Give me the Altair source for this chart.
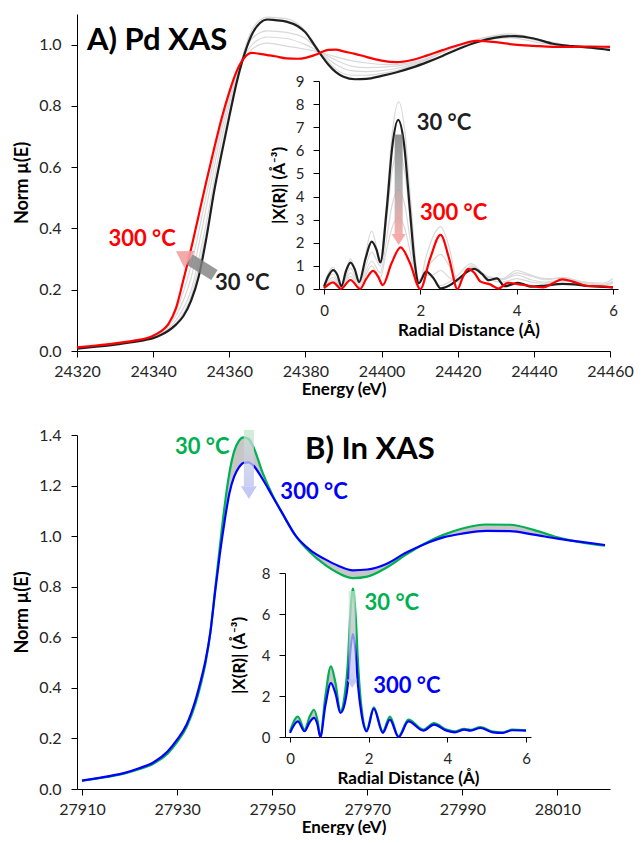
import altair as alt
import pandas as pd

FONT = "Lato"
BLACK = "#1f1f1f"
RED = "#ff0000"
GREEN = "#00b050"
BLUE = "#0000ff"
LIGHT = "#d9d9d9"

# ---------------- Panel A: Pd K-edge XANES ----------------
E_pd = [24320, 24325, 24330, 24335, 24338, 24340, 24342, 24344, 24346, 24348,
        24350, 24352, 24354, 24356, 24358, 24360, 24362, 24364, 24366, 24368,
        24370, 24372, 24375, 24378, 24380, 24382, 24384, 24386, 24388, 24390,
        24393, 24396, 24400, 24404, 24408, 24412, 24416, 24420, 24425, 24430,
        24435, 24440, 24445, 24450, 24455, 24460]
pd_30C = [0.008, 0.014, 0.021, 0.030, 0.036, 0.042, 0.052, 0.066, 0.086, 0.115,
          0.165, 0.245, 0.370, 0.520, 0.645, 0.765, 0.880, 0.970, 1.035, 1.070,
          1.082, 1.080, 1.075, 1.060, 1.040, 1.005, 0.968, 0.935, 0.910, 0.895,
          0.887, 0.888, 0.898, 0.910, 0.925, 0.943, 0.963, 0.985, 1.008, 1.023,
          1.028, 1.020, 1.003, 0.995, 0.990, 0.982]
pd_300C = [0.012, 0.018, 0.025, 0.034, 0.041, 0.050, 0.064, 0.088, 0.140, 0.235,
           0.335, 0.445, 0.555, 0.660, 0.760, 0.845, 0.915, 0.958, 0.973, 0.970,
           0.966, 0.962, 0.955, 0.954, 0.957, 0.964, 0.974, 0.983, 0.984, 0.978,
           0.970, 0.960, 0.948, 0.943, 0.950, 0.965, 0.982, 0.998, 1.012, 1.008,
           1.000, 0.996, 0.993, 0.993, 0.994, 0.993]
# intermediate temperatures (thin grey)
E_pd_mid = [24320, 24330, 24338, 24342, 24346, 24350, 24354, 24358, 24362, 24366,
            24370, 24375, 24380, 24384, 24388, 24392, 24396, 24402, 24410, 24418,
            24426, 24434, 24442, 24450, 24460]
pd_mid1 = [0.009, 0.022, 0.037, 0.053, 0.090, 0.180, 0.390, 0.660, 0.890, 1.050,
           1.090, 1.085, 1.045, 0.975, 0.920, 0.900, 0.900, 0.910, 0.940, 0.985,
           1.020, 1.035, 1.015, 0.995, 0.985]
pd_mid2 = [0.010, 0.023, 0.038, 0.056, 0.100, 0.200, 0.420, 0.690, 0.900, 1.020,
           1.045, 1.040, 1.020, 0.975, 0.935, 0.915, 0.912, 0.918, 0.942, 0.985,
           1.020, 1.032, 1.012, 0.995, 0.986]
pd_mid3 = [0.011, 0.024, 0.039, 0.060, 0.115, 0.240, 0.470, 0.720, 0.905, 1.000,
           1.025, 1.020, 1.000, 0.975, 0.950, 0.930, 0.925, 0.928, 0.945, 0.985,
           1.018, 1.028, 1.010, 0.994, 0.988]
pd_mid4 = [0.011, 0.024, 0.040, 0.063, 0.130, 0.280, 0.510, 0.740, 0.910, 0.985,
           1.005, 0.995, 0.985, 0.975, 0.960, 0.948, 0.940, 0.935, 0.948, 0.985,
           1.015, 1.022, 1.005, 0.993, 0.990]

# Pd EXAFS |X(R)|
R_pd_30C = [0, 0.1, 0.19, 0.28, 0.36, 0.46, 0.55, 0.64, 0.73, 0.86, 0.99, 1.09,
            1.17, 1.3, 1.42, 1.54, 1.66, 1.78, 1.88, 1.97, 2.12, 2.28, 2.42, 2.6,
            2.8, 3.0, 3.12, 3.28, 3.42, 3.59, 3.75, 3.9, 4.02, 4.15, 4.3, 4.6,
            4.95, 5.2, 5.45, 5.7, 6.0]
chi_pd_30C = [0.1, 0.6, 0.82, 0.6, 0.12, 0.8, 1.14, 0.85, 0.3, 1.3, 2.05, 1.7,
              1.15, 3.4, 6.2, 7.32, 6.3, 3.5, 1.2, 0.25, 0.75, 0.45, 0.03, 0.15,
              0.45, 0.78, 0.87, 0.65, 0.38, 0.46, 0.12, 0.2, 0.27, 0.2, 0.1, 0.15,
              0.22, 0.2, 0.13, 0.1, 0.07]
R_pd_300C = [0, 0.19, 0.35, 0.55, 0.75, 0.88, 1.02, 1.12, 1.22, 1.4, 1.59, 1.78,
             2.0, 2.2, 2.42, 2.6, 2.77, 2.88, 2.99, 3.12, 3.25, 3.45, 3.62, 3.82,
             4.05, 4.29, 4.55, 4.75, 4.95, 5.2, 5.49, 5.75, 6.0]
chi_pd_300C = [0.03, 0.29, 0.01, 0.39, 0.01, 0.45, 0.78, 0.55, 0.17, 1.1, 1.8, 1.15,
               0.0, 1.3, 2.34, 1.3, 0.0, 0.5, 0.87, 0.7, 0.32, 0.2, 0.02, 0.27,
               0.2, 0.13, 0.07, 0.25, 0.42, 0.3, 0.13, 0.12, 0.07]
R_pd_mid = [0, 0.19, 0.36, 0.55, 0.73, 0.99, 1.17, 1.3, 1.42, 1.55, 1.68, 1.8,
            1.97, 2.12, 2.25, 2.42, 2.6, 2.78, 3.05, 3.4, 3.7, 4.0, 4.3, 4.6,
            4.95, 5.4, 5.8, 6.0]
chi_pd_mid1 = [0.15, 0.95, 0.15, 1.3, 0.35, 2.5, 1.3, 3.8, 6.8, 8.1, 6.8, 3.8, 0.4,
               0.8, 0.45, 0.15, 0.3, 0.6, 1.1, 0.5, 0.4, 0.7, 0.55, 0.4, 0.5, 0.3,
               0.25, 0.45]
chi_pd_mid2 = [0.12, 0.65, 0.1, 0.9, 0.25, 1.6, 1.0, 3.0, 5.2, 6.0, 5.0, 2.8, 0.35,
               0.6, 0.6, 0.8, 0.5, 0.3, 1.0, 0.55, 0.45, 0.8, 0.6, 0.45, 0.45, 0.3,
               0.2, 0.35]
chi_pd_mid3 = [0.08, 0.5, 0.08, 0.7, 0.2, 1.2, 0.7, 2.2, 3.7, 4.3, 3.6, 2.0, 0.3,
               0.9, 1.2, 1.5, 1.0, 0.35, 0.95, 0.5, 0.4, 0.6, 0.4, 0.3, 0.4, 0.25,
               0.15, 0.3]
chi_pd_mid4 = [0.05, 0.4, 0.05, 0.55, 0.1, 1.0, 0.5, 1.7, 2.7, 3.1, 2.6, 1.5, 0.2,
               1.4, 2.2, 2.7, 1.8, 0.3, 0.9, 0.45, 0.3, 0.45, 0.3, 0.25, 0.35, 0.2,
               0.12, 0.25]

# ---------------- Panel B: In K-edge XANES ----------------
E_in = [27910, 27913, 27916, 27919, 27922, 27925, 27928, 27930, 27932, 27934,
        27935, 27936, 27937, 27938, 27939, 27940, 27941, 27942, 27943, 27944,
        27945, 27946, 27948, 27950, 27952, 27955, 27958, 27961, 27964, 27967,
        27970, 27974, 27978, 27982, 27986, 27990, 27995, 28000, 28005, 28010,
        28015, 28020]
in_30C = [0.033, 0.041, 0.050, 0.062, 0.078, 0.100, 0.140, 0.185, 0.245, 0.345,
          0.415, 0.500, 0.620, 0.790, 0.960, 1.120, 1.250, 1.335, 1.377, 1.391,
          1.385, 1.355, 1.250, 1.165, 1.095, 1.000, 0.935, 0.888, 0.853, 0.834,
          0.840, 0.875, 0.925, 0.970, 1.005, 1.030, 1.046, 1.045, 1.025, 0.995,
          0.975, 0.962]
in_300C = [0.033, 0.042, 0.052, 0.064, 0.082, 0.105, 0.148, 0.195, 0.255, 0.360,
           0.430, 0.510, 0.620, 0.780, 0.930, 1.060, 1.170, 1.235, 1.272, 1.290,
           1.292, 1.280, 1.225, 1.160, 1.095, 1.000, 0.945, 0.910, 0.882, 0.865,
           0.868, 0.890, 0.933, 0.968, 0.995, 1.010, 1.021, 1.020, 1.006, 0.990,
           0.977, 0.965]
R_in = [0, 0.2, 0.37, 0.5, 0.61, 0.7, 0.77, 0.9, 1.04, 1.16, 1.28, 1.4, 1.47, 1.53,
        1.6, 1.67, 1.73, 1.82, 1.95, 2.13, 2.36, 2.54, 2.76, 3.01, 3.39, 3.66, 3.98,
        4.19, 4.43, 4.59, 4.84, 5.16, 5.41, 5.65, 6.0]
chi_in_30C = [0.28, 1.0, 0.36, 1.0, 1.33, 0.8, 0.03, 2.0, 3.45, 2.6, 1.25, 2.2, 3.6,
              5.9, 7.24, 5.9, 3.6, 1.4, 0.36, 1.45, 0.28, 1.0, 0.03, 0.85, 0.36,
              0.68, 0.36, 0.27, 0.4, 0.35, 0.48, 0.26, 0.22, 0.36, 0.33]
chi_in_300C = [0.2, 0.76, 0.28, 0.72, 0.93, 0.6, 0.0, 1.55, 2.63, 2.1, 1.17, 1.7,
               2.55, 4.1, 5.02, 4.1, 2.5, 1.1, 0.28, 1.38, 0.2, 0.85, 0.0, 0.76,
               0.31, 0.6, 0.31, 0.23, 0.36, 0.31, 0.44, 0.23, 0.2, 0.33, 0.31]

# ---------------- ticks ----------------
pd_E_ticks = [24320, 24340, 24360, 24380, 24400, 24420, 24440, 24460]
pd_mu_ticks = [0.0, 0.2, 0.4, 0.6, 0.8, 1.0]
pd_chi_ticks = [0, 1, 2, 3, 4, 5, 6, 7, 8, 9]
in_E_ticks = [27910, 27930, 27950, 27970, 27990, 28010]
in_mu_ticks = [0.0, 0.2, 0.4, 0.6, 0.8, 1.0, 1.2, 1.4]
in_chi_ticks = [0, 2, 4, 6, 8]
R_ticks = [0, 2, 4, 6]

# ---------------- annotations ----------------
panel_titles = ["A) Pd XAS", "B) In XAS"]
t30, t300 = "30 °C", "300 °C"
pdA_lab_E = [24337.1, 24363.4]
pdA_lab_mu = [0.365, 0.222]
pdI_lab_R = [2.49, 2.69]
pdI_lab_chi = [7.2, 3.28]
inA_lab_E = [27935.3, 27958.8]
inA_lab_mu = [1.353, 1.175]
inI_lab_R = [2.59, 2.97]
inI_lab_chi = [6.54, 2.49]
# arrows: tail, head base, tip
pdA_arrow_E = [24356.1, 24349.5, 24346.0]
pdA_arrow_mu = [0.248, 0.299, 0.326]
pdI_arrow_R = 1.55
pdI_arrow_chi = [6.68, 2.38, 1.9]
inA_arrow_E = 27945.1
inA_arrow_mu = [1.42, 1.198, 1.147]
inI_arrow_R = 1.58
inI_arrow_chi = [7.12, 2.78, 2.39]

HEAD = "M-1,-1.6L1,-1.6L0,0Z"


def lines_df(xname, xs, yname, series):
    rows = []
    for name, vals in series.items():
        for x, y in zip(xs, vals):
            rows.append({xname: x, yname: y, "s": name})
    return pd.DataFrame(rows)


def main_axis_x(values, title):
    return alt.Axis(values=values, format="d", title=title, labelFlush=False,
                    labelOverlap=False, tickSize=6, labelPadding=6, titlePadding=2,
                    labelFontSize=16, titleFontSize=17)


def main_axis_y(values, title):
    return alt.Axis(values=values, format=".1f", title=title, tickSize=6,
                    labelPadding=10, titlePadding=7, labelFontSize=16, titleFontSize=18)


def inset_axis_x(offset):
    return alt.Axis(values=R_ticks, format="d", title="Radial Distance (Å)",
                    orient="bottom", offset=offset, labelFlush=False,
                    labelOverlap=False, tickSize=5, labelPadding=9, titlePadding=4,
                    labelFontSize=15, titleFontSize=17)


def inset_axis_y(values, offset, tpad):
    return alt.Axis(values=values, format="d", title="|X(R)| (Å⁻³)", orient="left",
                    offset=offset, tickSize=6, labelPadding=9, titlePadding=tpad,
                    labelFontSize=15, titleFontSize=17)


def text_layer(df, xenc, yenc, size):
    return alt.Chart(df).mark_text(font=FONT, fontWeight="bold", fontSize=size,
                                   align="center", baseline="middle").encode(
        x=xenc, y=yenc, text="label:N", color=alt.Color("col:N", scale=None))


# ================= Panel A =================
WA, HA = 533, 337
xA = alt.X("E:Q", scale=alt.Scale(domain=[24320, 24460], nice=False, zero=False),
           axis=main_axis_x(pd_E_ticks, "Energy (eV)"))
yA = alt.Y("mu:Q", scale=alt.Scale(domain=[0, 1.1], nice=False),
           axis=main_axis_y(pd_mu_ticks, "Norm µ(E)"))

pdA_gray = alt.Chart(lines_df("E", E_pd_mid, "mu", {"a": pd_mid1, "b": pd_mid2,
                                                    "c": pd_mid3, "d": pd_mid4})
                     ).mark_line(color=LIGHT, strokeWidth=1.2, interpolate="monotone"
                                 ).encode(x=xA, y=yA, detail="s:N")
pdA_black = alt.Chart(pd.DataFrame({"E": E_pd, "mu": pd_30C})).mark_line(
    color=BLACK, strokeWidth=2.2, interpolate="monotone").encode(x=xA, y=yA)
pdA_red = alt.Chart(pd.DataFrame({"E": E_pd, "mu": pd_300C})).mark_line(
    color=RED, strokeWidth=2.2, interpolate="monotone").encode(x=xA, y=yA)
pdA_shaft = alt.Chart(pd.DataFrame({"E": [pdA_arrow_E[0]], "mu": [pdA_arrow_mu[0]],
                                    "E2": [pdA_arrow_E[1]], "mu2": [pdA_arrow_mu[1]]})
                      ).mark_rule(color="#7f7f7f", strokeWidth=12, opacity=0.8,
                                  strokeCap="butt").encode(
    x=xA, y=yA, x2=alt.X2("E2"), y2=alt.Y2("mu2"))
pdA_head = alt.Chart(pd.DataFrame({"E": [pdA_arrow_E[2]], "mu": [pdA_arrow_mu[2]]})
                     ).mark_point(shape=HEAD, filled=True, size=400, angle=121.6,
                                  color="#f4a0a0", opacity=0.9, strokeWidth=0).encode(
    x=xA, y=yA)
pdA_title = alt.Chart(pd.DataFrame({"E": [24322.6], "mu": [1.011],
                                    "label": [panel_titles[0]]})).mark_text(
    font=FONT, fontWeight="bold", fontSize=31, align="left", baseline="middle",
    color="black").encode(x=xA, y=yA, text="label:N")
pdA_text = text_layer(pd.DataFrame({"E": pdA_lab_E, "mu": pdA_lab_mu,
                                    "label": [t300, t30], "col": [RED, BLACK]}),
                      xA, yA, 22)

mainA = alt.layer(pdA_gray, pdA_black, pdA_red, pdA_shaft, pdA_head, pdA_title, pdA_text)

xAi = alt.X("r:Q", scale=alt.Scale(domain=[0, 6], range=[242, 541], nice=False, zero=False),
            axis=inset_axis_x(275 - HA))
yAi = alt.Y("chi:Q", scale=alt.Scale(domain=[0, 9], range=[275, 67], nice=False),
            axis=inset_axis_y(pd_chi_ticks, -242, 7))

pdI_gray = alt.Chart(lines_df("r", R_pd_mid, "chi", {"a": chi_pd_mid1, "b": chi_pd_mid2,
                                                     "c": chi_pd_mid3, "d": chi_pd_mid4})
                     ).mark_line(color=LIGHT, strokeWidth=1.2, interpolate="monotone"
                                 ).encode(x=xAi, y=yAi, detail="s:N")
pdI_black = alt.Chart(pd.DataFrame({"r": R_pd_30C, "chi": chi_pd_30C})).mark_line(
    color=BLACK, strokeWidth=2.2, interpolate="monotone").encode(x=xAi, y=yAi)
pdI_red = alt.Chart(pd.DataFrame({"r": R_pd_300C, "chi": chi_pd_300C})).mark_line(
    color=RED, strokeWidth=2.2, interpolate="monotone").encode(x=xAi, y=yAi)
pdI_shaft = alt.Chart(pd.DataFrame({"r": [pdI_arrow_R], "chi": [pdI_arrow_chi[0]],
                                    "chi2": [pdI_arrow_chi[1]]})).mark_bar(
    width=8, opacity=0.85,
    fill={"gradient": "linear", "x1": 0, "y1": 0, "x2": 0, "y2": 1,
          "stops": [{"offset": 0, "color": "#7f7f7f"}, {"offset": 0.45, "color": "#a0a0a0"},
                    {"offset": 1, "color": "#f4a0a0"}]}).encode(
    x=xAi, y=yAi, y2=alt.Y2("chi2"))
pdI_head = alt.Chart(pd.DataFrame({"r": [pdI_arrow_R], "chi": [pdI_arrow_chi[2]]})
                     ).mark_point(shape=HEAD, filled=True, size=196, color="#f4a0a0",
                                  opacity=0.9, strokeWidth=0).encode(x=xAi, y=yAi)
pdI_text = text_layer(pd.DataFrame({"r": pdI_lab_R, "chi": pdI_lab_chi,
                                    "label": [t30, t300], "col": [BLACK, RED]}),
                      xAi, yAi, 22)

insetA = alt.layer(pdI_gray, pdI_black, pdI_red, pdI_shaft, pdI_head, pdI_text)

chartA = alt.layer(mainA, insetA).resolve_scale(
    x="independent", y="independent").properties(width=WA, height=HA)

# ================= Panel B =================
WB, HB = 533, 354
xB = alt.X("E:Q", scale=alt.Scale(domain=[27910, 28020], nice=False, zero=False),
           axis=main_axis_x(in_E_ticks, "Energy (eV)"))
yB = alt.Y("mu:Q", scale=alt.Scale(domain=[0, 1.4], nice=False),
           axis=main_axis_y(in_mu_ticks, "Norm µ(E)"))

inA_df = pd.DataFrame({"E": E_in, "mu": in_30C, "mu2": in_300C})
inA_band = alt.Chart(inA_df).mark_area(color="#b3b3b3", opacity=0.75,
                                       interpolate="monotone").encode(
    x=xB, y=yB, y2=alt.Y2("mu2"))
inA_green = alt.Chart(pd.DataFrame({"E": E_in, "mu": in_30C})).mark_line(
    color=GREEN, strokeWidth=2.2, interpolate="monotone").encode(x=xB, y=yB)
inA_blue = alt.Chart(pd.DataFrame({"E": E_in, "mu": in_300C})).mark_line(
    color=BLUE, strokeWidth=2.2, interpolate="monotone").encode(x=xB, y=yB)
inA_shaft = alt.Chart(pd.DataFrame({"E": [inA_arrow_E], "mu": [inA_arrow_mu[0]],
                                    "mu2": [inA_arrow_mu[1]]})).mark_bar(
    width=10, opacity=0.75,
    fill={"gradient": "linear", "x1": 0, "y1": 0, "x2": 0, "y2": 1,
          "stops": [{"offset": 0, "color": "#bfe8cc"}, {"offset": 0.4, "color": "#cfd3dc"},
                    {"offset": 1, "color": "#b8bff5"}]}).encode(
    x=xB, y=yB, y2=alt.Y2("mu2"))
inA_head = alt.Chart(pd.DataFrame({"E": [inA_arrow_E], "mu": [inA_arrow_mu[2]]})
                     ).mark_point(shape=HEAD, filled=True, size=256, color="#b8bff5",
                                  opacity=0.85, strokeWidth=0).encode(x=xB, y=yB)
inA_title = alt.Chart(pd.DataFrame({"E": [27956.9], "mu": [1.341],
                                    "label": [panel_titles[1]]})).mark_text(
    font=FONT, fontWeight="bold", fontSize=31, align="left", baseline="middle",
    color="black").encode(x=xB, y=yB, text="label:N")
inA_text = text_layer(pd.DataFrame({"E": inA_lab_E, "mu": inA_lab_mu,
                                    "label": [t30, t300], "col": [GREEN, BLUE]}),
                      xB, yB, 22)

mainB = alt.layer(inA_band, inA_green, inA_blue, inA_shaft, inA_head, inA_title, inA_text)

xBi = alt.X("r:Q", scale=alt.Scale(domain=[0, 6], range=[208, 454], nice=False, zero=False),
            axis=inset_axis_x(302 - HB))
yBi = alt.Y("chi:Q", scale=alt.Scale(domain=[0, 8], range=[302, 138], nice=False),
            axis=inset_axis_y(in_chi_ticks, -208, 13))

inI_df = pd.DataFrame({"r": R_in, "chi": chi_in_30C, "chi2": chi_in_300C})
inI_band = alt.Chart(inI_df).mark_area(color="#b3b3b3", opacity=0.75,
                                       interpolate="monotone").encode(
    x=xBi, y=yBi, y2=alt.Y2("chi2"))
inI_green = alt.Chart(pd.DataFrame({"r": R_in, "chi": chi_in_30C})).mark_line(
    color=GREEN, strokeWidth=2.2, interpolate="monotone").encode(x=xBi, y=yBi)
inI_blue = alt.Chart(pd.DataFrame({"r": R_in, "chi": chi_in_300C})).mark_line(
    color=BLUE, strokeWidth=2.2, interpolate="monotone").encode(x=xBi, y=yBi)
inI_shaft = alt.Chart(pd.DataFrame({"r": [inI_arrow_R], "chi": [inI_arrow_chi[0]],
                                    "chi2": [inI_arrow_chi[1]]})).mark_bar(
    width=7, opacity=0.7,
    fill={"gradient": "linear", "x1": 0, "y1": 0, "x2": 0, "y2": 1,
          "stops": [{"offset": 0, "color": "#c8ead2"}, {"offset": 0.35, "color": "#d0d4dc"},
                    {"offset": 1, "color": "#b8bff5"}]}).encode(
    x=xBi, y=yBi, y2=alt.Y2("chi2"))
inI_head = alt.Chart(pd.DataFrame({"r": [inI_arrow_R], "chi": [inI_arrow_chi[2]]})
                     ).mark_point(shape=HEAD, filled=True, size=110, color="#b8bff5",
                                  opacity=0.85, strokeWidth=0).encode(x=xBi, y=yBi)
inI_text = text_layer(pd.DataFrame({"r": inI_lab_R, "chi": inI_lab_chi,
                                    "label": [t30, t300], "col": [GREEN, BLUE]}),
                      xBi, yBi, 22)

insetB = alt.layer(inI_band, inI_green, inI_blue, inI_shaft, inI_head, inI_text)

chartB = alt.layer(mainB, insetB).resolve_scale(
    x="independent", y="independent").properties(width=WB, height=HB)

chart = alt.vconcat(chartA, chartB, spacing=30).properties(
    padding={"left": 5, "top": 6, "right": 0, "bottom": 0}
).configure_view(stroke=None).configure_axis(
    grid=False, labelFont=FONT, titleFont=FONT, titleFontWeight="bold",
    labelColor="#262626", titleColor="#000000", domainColor="#000000",
    tickColor="#000000", domainWidth=1, tickWidth=1
)

chart.save("out.html", embed_options={"renderer": "svg", "actions": False})
